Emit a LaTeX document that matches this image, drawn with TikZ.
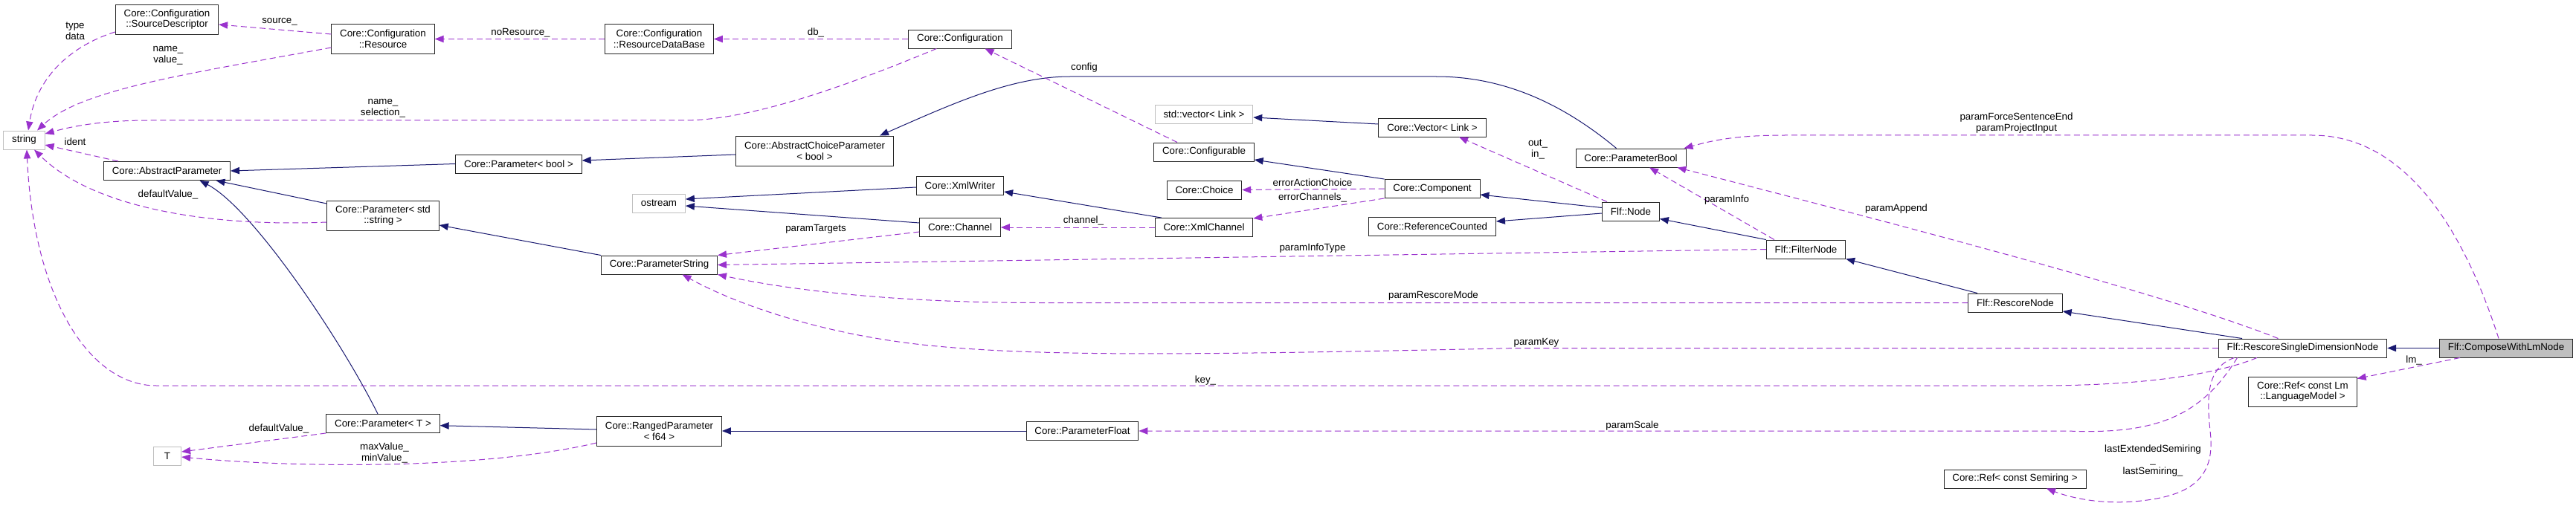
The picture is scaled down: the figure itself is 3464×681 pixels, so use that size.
\documentclass[tikz,border=0pt]{standalone}
\usepackage{fontspec}
\setmainfont{Liberation Sans}
\usepackage{xcolor}
\usepackage{tikz}
\usetikzlibrary{arrows.meta}

\definecolor{inhblue}{HTML}{191970}
\definecolor{usepurple}{HTML}{9A32CD}
\definecolor{boxgray}{HTML}{BFBFBF}

\begin{document}
\begin{tikzpicture}[x=0.75pt, y=-0.75pt, every node/.style={font=\fontsize{10}{11}\selectfont},
    cls/.style={draw=black!85, fill=white, line width=0.7pt, inner xsep=8.5pt, inner ysep=2pt, minimum height=18.75pt, align=center},
    cls2/.style={cls, minimum height=30pt},
    ext/.style={cls, draw=boxgray, minimum width=28pt},
    inh/.style={draw=inhblue, line width=0.75pt, -{Triangle[length=9pt, width=7pt]}},
    use/.style={draw=usepurple, line width=0.75pt, dash pattern=on 6pt off 3.5pt, -{Triangle[length=9pt, width=7pt]}},
    lbl/.style={inner sep=0pt, align=center}]
    \useasboundingbox (0,0) rectangle (3464,681);

    % Classes, right to left
    \node[cls, fill=boxgray] (cwln) at (3370,468.5) {Flf::ComposeWithLmNode};
    \node[cls] (rsdn) at (3096.5,468.5) {Flf::RescoreSingleDimensionNode};
    \node[cls2] (refLm) at (3096.5,527) {Core::Ref< const Lm\\::LanguageModel >};
    \node[cls] (resc) at (2710,407.5) {Flf::RescoreNode};
    \node[cls] (refSemi) at (2709.5,644.5) {Core::Ref< const Semiring >};
    \node[cls] (filt) at (2428.5,335.5) {Flf::FilterNode};
    \node[cls] (pBool) at (2193,212.5) {Core::ParameterBool};
    \node[cls] (flfNode) at (2193,284.5) {Flf::Node};
    \node[cls] (vecLink) at (1926,171.5) {Core::Vector< Link >};
    \node[cls] (comp) at (1926,254) {Core::Component};
    \node[cls] (refCnt) at (1926,304.5) {Core::ReferenceCounted};
    \node[ext] (stdVec) at (1619,153.5) {std::vector< Link >};
    \node[cls] (cfgable) at (1619,204.5) {Core::Configurable};
    \node[cls] (choice) at (1619.5,255.5) {Core::Choice};
    \node[cls] (xmlChan) at (1619,306) {Core::XmlChannel};
    \node[cls] (parFloat) at (1455.5,580) {Core::ParameterFloat};
    \node[cls] (conf) at (1291,52.5) {Core::Configuration};
    \node[cls] (xmlW) at (1291,250) {Core::XmlWriter};
    \node[cls] (chan) at (1291,306) {Core::Channel};
    \node[cls2] (acp) at (1095.5,203) {Core::AbstractChoiceParameter\\< bool >};
    \node[cls2] (resDB) at (886.5,52.5) {Core::Configuration\\::ResourceDataBase};
    \node[ext] (ostr) at (886,273.5) {ostream};
    \node[cls] (parStr) at (886.5,356.5) {Core::ParameterString};
    \node[cls2] (ranged) at (886.5,580) {Core::RangedParameter\\< f64 >};
    \node[cls] (parBool) at (697.5,220.5) {Core::Parameter< bool >};
    \node[cls2] (res) at (515,52.5) {Core::Configuration\\::Resource};
    \node[cls2] (parStd) at (515,290) {Core::Parameter< std\\::string >};
    \node[cls] (parT) at (515,570) {Core::Parameter< T >};
    \node[cls2] (srcDesc) at (224.5,26) {Core::Configuration\\::SourceDescriptor};
    \node[cls] (absPar) at (224.5,230) {Core::AbstractParameter};
    \node[ext] (tT) at (225,613.5) {T};
    \node[ext] (str) at (32.5,188.5) {string};

    % Inheritance
    \draw[inh] ([shift={(0,-16)}]parStd.west) -- ([shift={(66,0)}]absPar.south);
    \draw[inh] ([shift={(-7,0)}]parT.north) .. controls (460,460) and (340,280) .. ([shift={(44,0)}]absPar.south);
    \draw[inh] (parBool.west) -- (absPar.east);
    \draw[inh] ([shift={(0,5)}]acp.west) -- ([shift={(0,-4.5)}]parBool.east);
    \draw[inh] ([shift={(-19.5,0)}]pBool.north) .. controls (2090,130) and (2010,103) .. (1931,103) -- (1439,103) .. controls (1360,103) and (1280,140) .. ([shift={(87.5,0)}]acp.north);
    \draw[inh] ([shift={(0,-4.5)}]vecLink.west) -- ([shift={(0,4.5)}]stdVec.east);
    \draw[inh] (comp.north west) -- ([shift={(0,10.5)}]cfgable.east);
    \draw[inh] ([shift={(0,-5)}]flfNode.west) -- ([shift={(0,8)}]comp.east);
    \draw[inh] ([shift={(0,2.5)}]flfNode.west) -- ([shift={(0,-6.5)}]refCnt.east);
    \draw[inh] (filt.north west) -- ([shift={(0,-3)}]flfNode.south east);
    \draw[inh] ([shift={(-51,0)}]resc.north) -- (filt.south east);
    \draw[inh] ([shift={(-81.5,0)}]rsdn.north) -- ([shift={(0,11.5)}]resc.east);
    \draw[inh] (cwln.west) -- (rsdn.east);
    \draw[inh] ([shift={(0,2)}]xmlW.west) -- ([shift={(0,-5.5)}]ostr.east);
    \draw[inh] ([shift={(9,0)}]xmlChan.north west) -- ([shift={(0,8)}]xmlW.east);
    \draw[inh] ([shift={(0,-6)}]chan.west) -- ([shift={(0,3.5)}]ostr.east);
    \draw[inh] (parStr.north west) -- ([shift={(0,13)}]parStd.east);
    \draw[inh] ([shift={(0,-2)}]ranged.west) -- ([shift={(0,2.7)}]parT.east);
    \draw[inh] (parFloat.west) -- (ranged.east);

    % Usage (members)
    \draw[use] ([shift={(0,17)}]srcDesc.west) .. controls (100,60) and (50,100) .. ([shift={(5.5,0)}]str.north);
    \draw[use] ([shift={(0,-6.5)}]res.west) -- ([shift={(0,7)}]srcDesc.east);
    \draw[use] ([shift={(0,11.5)}]res.west) .. controls (250,100) and (110,120) .. ([shift={(17.5,0)}]str.north);
    \draw[use] (resDB.west) -- (res.east);
    \draw[use] (conf.west) -- (resDB.east);
    \draw[use] ([shift={(38,0)}]conf.south west) .. controls (1140,115) and (1010,162) .. (920,162) -- (200,162) .. controls (130,162) and (90,172) .. ([shift={(0,-8.5)}]str.east);
    \draw[use] ([shift={(20,0)}]absPar.north west) -- ([shift={(0,6.5)}]str.east);
    \draw[use] ([shift={(0,9)}]parStd.west) .. controls (300,305) and (130,285) .. ([shift={(13.5,0)}]str.south);
    \draw[use] ([shift={(-61.5,0)}]rsdn.south) .. controls (2990,500) and (2900,519) .. (2741,519) -- (210,519) .. controls (120,519) and (45,400) .. ([shift={(3.5,0)}]str.south);
    \draw[use] (parT.south west) -- ([shift={(0,-5.5)}]tT.east);
    \draw[use] ([shift={(0,16)}]ranged.west) .. controls (650,632) and (400,630) .. ([shift={(0,1.5)}]tT.east);
    \draw[use] ([shift={(0,6)}]chan.west) -- (parStr.north east);
    \draw[use] (filt.west) -- (parStr.east);
    \draw[use] (resc.west) -- (1400,407.5) .. controls (1200,407.5) and (1060,390) .. (parStr.south east);
    \draw[use] (rsdn.west) -- (2040,468.5) .. controls (1600,478) and (1400,480) .. (1250,465) .. controls (1120,452) and (1000,415) .. ([shift={(31,0)}]parStr.south);
    \draw[use] ([shift={(-33,0)}]rsdn.north) .. controls (2950,410) and (2700,340) .. ([shift={(-12,0)}]pBool.south east);
    \draw[use] ([shift={(11,0)}]filt.north west) -- ([shift={(25,0)}]pBool.south);
    \draw[use] ([shift={(-10,0)}]cwln.north) .. controls (3310,300) and (3230,182) .. (3109,182) -- (2400,182) .. controls (2330,182) and (2300,190) .. ([shift={(-3,0)}]pBool.north east);
    \draw[use] ([shift={(-36,0)}]cfgable.north) -- ([shift={(33.5,0)}]conf.south);
    \draw[use] ([shift={(-32,0)}]flfNode.north) -- ([shift={(36,0)}]vecLink.south);
    \draw[use] (comp.west) -- (choice.east);
    \draw[use] (comp.south west) -- ([shift={(0,-12)}]xmlChan.east);
    \draw[use] (xmlChan.west) -- (chan.east);
    \draw[use] ([shift={(-62,0)}]cwln.south) -- ([shift={(0,3)}]refLm.north east);
    \draw[use] ([shift={(-88,0)}]rsdn.south) .. controls (2960,560) and (2900,585) .. (2780,580) -- (parFloat.east);
    \draw[use] ([shift={(-92,0)}]rsdn.south) .. controls (2965,495) and (2968,540) .. (2972,580) .. controls (2978,630) and (2960,660) .. (2900,671) .. controls (2840,682) and (2790,672) .. ([shift={(42.5,0)}]refSemi.south);

    % Member labels
    \node[lbl] (lTypeData) at (101,41.5) {type\\data};
    \node[lbl] (lSource) at (376,29) {source\_};
    \node[lbl] (lNameValue) at (226,75) {name\_\\value\_};
    \node[lbl] (lNoRes) at (700,44) {noResource\_};
    \node[lbl] (lDb) at (1097,44) {db\_};
    \node[lbl] (lNameSel) at (515,145.5) {name\_\\selection\_};
    \node[lbl] (lIdent) at (101,191) {ident};
    \node[lbl] (lDefStd) at (226,262) {defaultValue\_};
    \node[lbl] (lDefT) at (375,577) {defaultValue\_};
    \node[lbl] (lMinMax) at (517,609.5) {maxValue\_\\minValue\_};
    \node[lbl] (lKey) at (1621,512) {key\_};
    \node[lbl] (lTargets) at (1097,308) {paramTargets};
    \node[lbl] (lConfig) at (1458,91) {config};
    \node[lbl] (lChannel) at (1457,297) {channel\_};
    \node[lbl] (lErrAct) at (1765,246) {errorActionChoice};
    \node[lbl] (lErrChan) at (1765,266) {errorChannels\_};
    \node[lbl] (lInfoType) at (1765,334) {paramInfoType};
    \node[lbl] (lOutIn) at (2068,201) {out\_\\in\_};
    \node[lbl] (lInfo) at (2322,269) {paramInfo};
    \node[lbl] (lAppend) at (2550,281) {paramAppend};
    \node[lbl] (lForce) at (2711.5,165.5) {paramForceSentenceEnd\\paramProjectInput};
    \node[lbl] (lRescMode) at (1927.5,398) {paramRescoreMode};
    \node[lbl] (lKeyParam) at (2066,461) {paramKey};
    \node[lbl] (lScale) at (2195,573) {paramScale};
    \node[lbl] (lSemi) at (2895,620) {lastExtendedSemiring\\\_\\lastSemiring\_};
    \node[lbl] (lLm) at (3246,485) {lm\_};
\end{tikzpicture}
\end{document}
